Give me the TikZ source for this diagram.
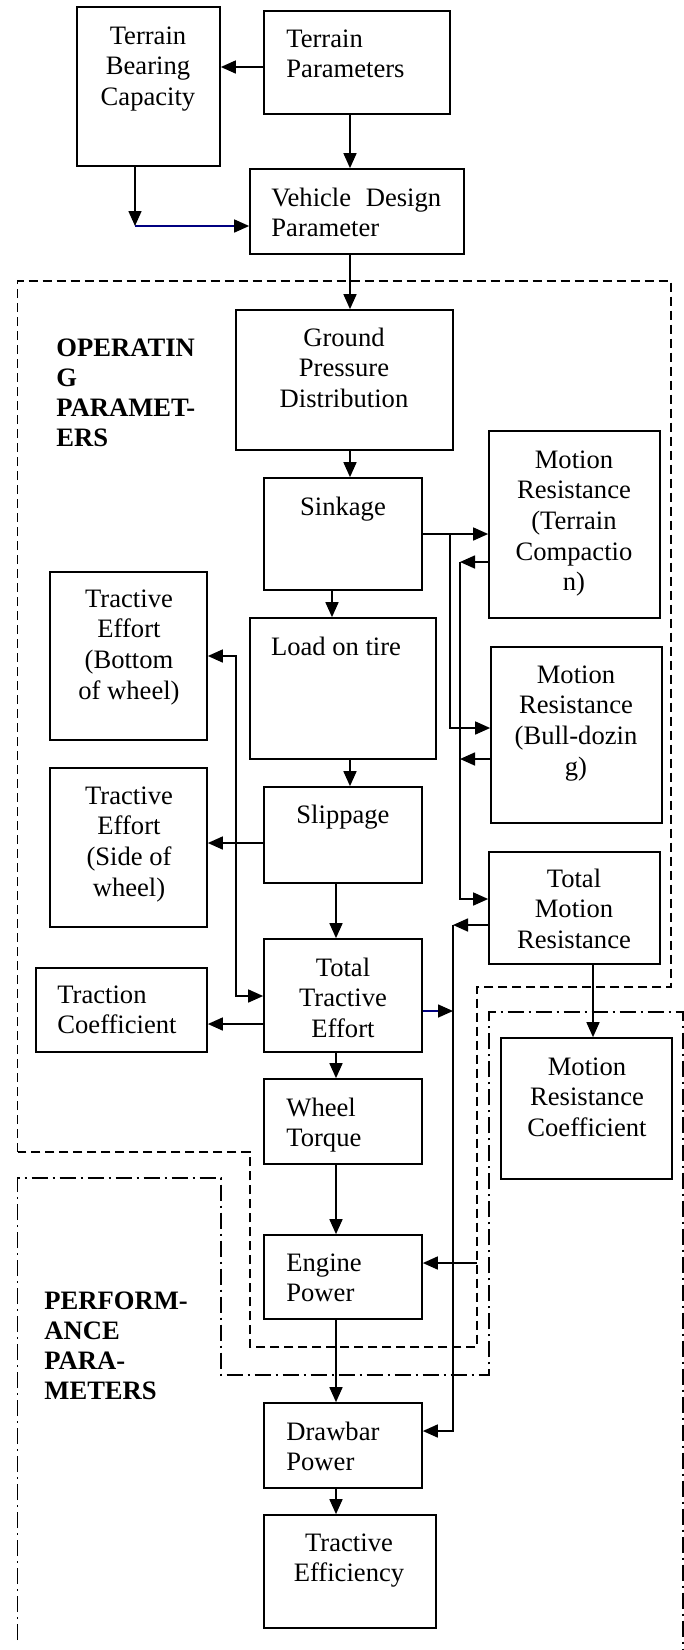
\documentclass[tikz,border=0pt]{standalone}
\usepackage{fontspec}
\setmainfont{Liberation Serif}
\usetikzlibrary{arrows.meta,fit}
\definecolor{navyline}{RGB}{0,0,128}
\begin{document}
\begin{tikzpicture}[x=0.5pt,y=-0.5pt,
  box/.style={draw, line width=0.85pt, inner sep=0pt},
  txt/.style={font=\fontsize{13.3pt}{15.35pt}\selectfont, align=center, inner sep=0pt, anchor=base},
  ltxt/.style={txt, align=left, anchor=base west},
  lbl/.style={ltxt, font=\fontsize{13.3pt}{15pt}\selectfont\bfseries},
  arr/.style={line width=0.8pt, -{Triangle[length=7.5pt,width=6.5pt]}},
  arrtwo/.style={line width=0.8pt, {Triangle[length=7.5pt,width=6.5pt]}-{Triangle[length=7.5pt,width=6.5pt]}},
  arrnavy/.style={line width=0.8pt, draw=navyline, -{Triangle[length=7.5pt,width=6.5pt,color=black,fill=black]}},
  opdash/.style={line width=0.6pt, dash pattern=on 4.5pt off 2.5pt},
  perfdash/.style={line width=0.6pt, dash pattern=on 8pt off 2.5pt on 1pt off 2.5pt},
]
\useasboundingbox (0,0) rectangle (684,1650);

% boxes
\node[box, fit={(77,7) (220,166)}] (tbc) {};
\node[box, fit={(264,11) (450,114)}] (tp) {};
\node[box, fit={(250,169) (464,254)}] (vdp) {};
\node[box, fit={(236,310) (453,450)}] (gpd) {};
\node[box, fit={(264,478) (422,590)}] (sink) {};
\node[box, fit={(489,431) (660,618)}] (mra) {};
\node[box, fit={(491,647) (662,823)}] (mrb) {};
\node[box, fit={(250,618) (436,759)}] (load) {};
\node[box, fit={(264,787) (422,883)}] (slip) {};
\node[box, fit={(50,572) (207,740)}] (teb) {};
\node[box, fit={(50,768) (207,927)}] (tes) {};
\node[box, fit={(264,939) (422,1052)}] (tte) {};
\node[box, fit={(36,968) (207,1052)}] (tc) {};
\node[box, fit={(489,852) (660,964)}] (tmr) {};
\node[box, fit={(501,1038) (672,1179)}] (mrco) {};
\node[box, fit={(264,1079) (422,1164)}] (wt) {};
\node[box, fit={(264,1235) (422,1319)}] (ep) {};
\node[box, fit={(264,1403) (422,1488)}] (dp) {};
\node[box, fit={(264,1515) (436,1628)}] (teff) {};

% texts (anchored at the baseline of their last line)
\node[txt] (tbc-t) at (148,105.4) {Terrain\\Bearing\\Capacity};
\node[ltxt] (tp-t) at (286,77.7) {Terrain\\Parameters};
\node[ltxt] (vdp-t) at (271,236.7) {Vehicle\hspace{4pt}\ Design\\Parameter};
\node[txt] (gpd-t) at (344,407.4) {Ground\\Pressure\\Distribution};
\node[lbl] (op-t) at (56,446) {OPERATIN\\G\\PARAMET-\\ERS};
\node[txt] (sink-t) at (343,515) {Sinkage};
\node[txt] (mra-t) at (574,590.8) {Motion\\Resistance\\(Terrain\\Compactio\\n)};
\node[txt] (mrb-t) at (576,775.1) {Motion\\Resistance\\(Bull-dozin\\g)};
\node[txt] (load-t) at (336,655) {Load on tire};
\node[txt] (slip-t) at (343,823) {Slippage};
\node[txt] (teb-t) at (129,699.1) {Tractive\\Effort\\(Bottom\\of wheel)};
\node[txt] (tes-t) at (129,896.1) {Tractive\\Effort\\(Side of\\wheel)};
\node[txt] (tte-t) at (343,1037.4) {Total\\Tractive\\Effort};
\node[ltxt] (tc-t) at (57,1033.7) {Traction\\Coefficient};
\node[txt] (tmr-t) at (574,948.4) {Total\\Motion\\Resistance};
\node[txt] (mrco-t) at (587,1136.4) {Motion\\Resistance\\Coefficient};
\node[ltxt] (wt-t) at (286,1146.7) {Wheel\\Torque};
\node[ltxt] (ep-t) at (286,1301.7) {Engine\\Power};
\node[ltxt] (dp-t) at (286,1470.7) {Drawbar\\Power};
\node[txt] (teff-t) at (349,1581.7) {Tractive\\Efficiency};
\node[lbl] (pf-t) at (44,1399) {PERFORM-\\ANCE\\PARA-\\METERS};

% connectors
\draw[arr] (tp.west |- 0,67) -- (tbc.east |- 0,67);
\draw[arr] (tp.south -| 350,0) -- (vdp.north -| 350,0);
\coordinate (c1) at (135,226);
\draw[arr] (tbc.south -| c1) -- (c1);
\draw[arrnavy] (c1) -- (vdp.west |- c1);
\draw[arr] (vdp.south -| 350,0) -- (gpd.north -| 350,0);
\draw[arr] (gpd.south -| 350,0) -- (sink.north -| 350,0);
\coordinate (j1) at (450,534);
\draw[arr] (sink.east |- j1) -- (mra.west |- j1);
\coordinate (j2) at (450,728);
\draw[arr] (j1) -- (j2) -- (mrb.west |- j2);
\coordinate (c2) at (460,562);
\draw[arr] (mra.west |- c2) -- (c2);
\coordinate (c3) at (460,759);
\draw[arr] (mrb.west |- c3) -- (c3);
\coordinate (c4) at (460,899);
\draw[arr] (c2) -- (c4) -- (tmr.west |- c4);
\coordinate (c5) at (453,925);
\draw[arr] (tmr.west |- c5) -- (c5);
\coordinate (c6) at (453,1431);
\draw[arr] (c5) -- (c6) -- (dp.east |- c6);
\coordinate (c7) at (453,1011);
\draw[arrnavy] (tte.east |- c7) -- (c7);
\coordinate (c8) at (477,1263);
\draw[arr] (c8) -- (ep.east |- c8);
\draw[arr] (sink.south -| 332,0) -- (load.north -| 332,0);
\draw[arr] (load.south -| 350,0) -- (slip.north -| 350,0);
\coordinate (c9) at (236,656);
\coordinate (c10) at (236,996);
\draw[arrtwo] (teb.east |- c9) -- (c9) -- (c10) -- (tte.west |- c10);
\draw[arr] (slip.west |- 0,843) -- (tes.east |- 0,843);
\draw[arr] (slip.south -| 336,0) -- (tte.north -| 336,0);
\draw[arr] (tte.west |- 0,1024) -- (tc.east |- 0,1024);
\draw[arr] (tte.south -| 336,0) -- (wt.north -| 336,0);
\draw[arr] (wt.south -| 336,0) -- (ep.north -| 336,0);
\draw[arr] (ep.south -| 336,0) -- (dp.north -| 336,0);
\draw[arr] (dp.south -| 336,0) -- (teff.north -| 336,0);
\draw[arr] (tmr.south -| 593,0) -- (mrco.north -| 593,0);

% regions
\draw[opdash] (17.6,1152) -- (17.6,281) -- (671,281) -- (671,987) -- (477,987) -- (477,1347) -- (250,1347) -- (250,1152) -- cycle;
\draw[perfdash] (17.6,1640) -- (17.6,1178) -- (221,1178) -- (221,1375) -- (489,1375) -- (489,1012) -- (683,1012) -- (683,1650);
\end{tikzpicture}
\end{document}
